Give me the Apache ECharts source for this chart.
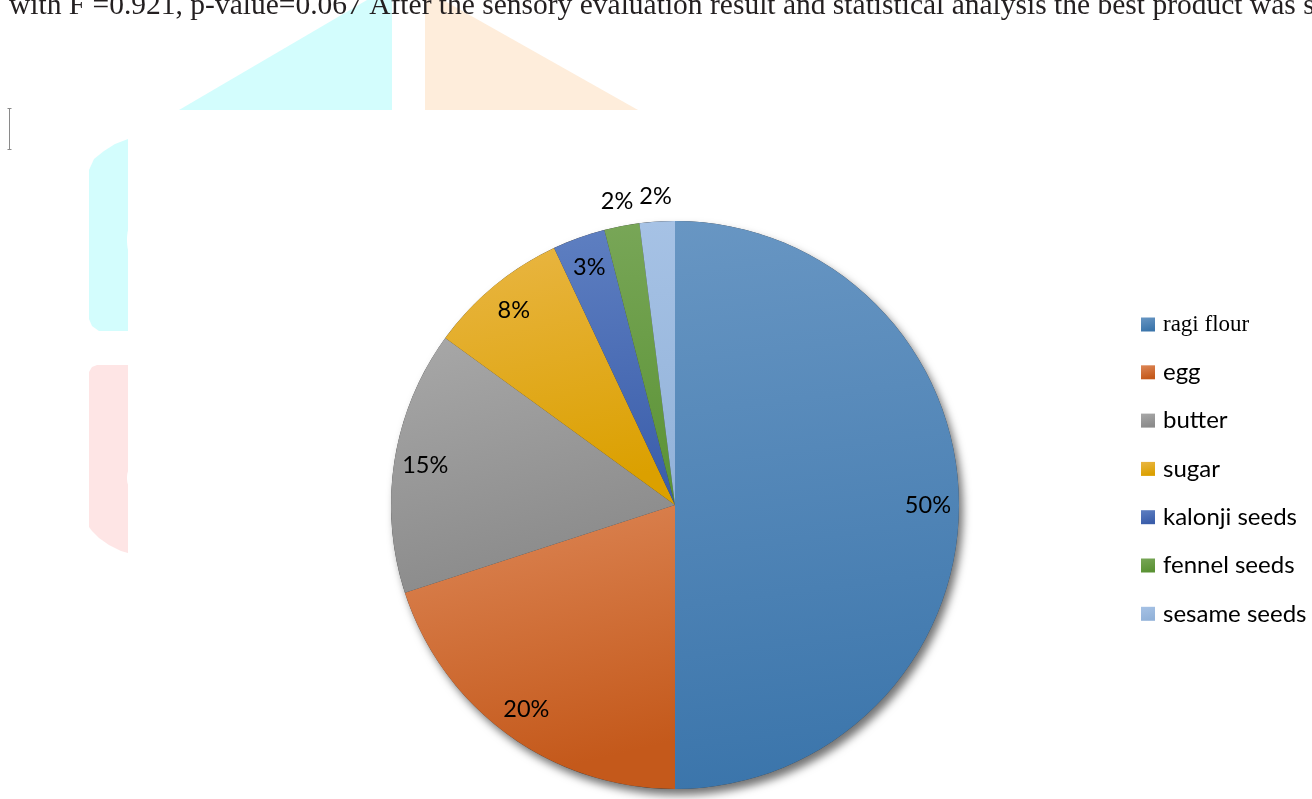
<!DOCTYPE html>
<html>
<head>
<meta charset="utf-8">
<script src="https://cdn.jsdelivr.net/npm/echarts@6/dist/echarts.min.js"></script>
<style>
  html, body { margin: 0; padding: 0; background: #ffffff; }
  #chart { width: 1312px; height: 799px; }
</style>
</head>
<body>
<div id="chart"></div>
<script>
// ---- data ----
const categories = ['ragi flour', 'egg', 'butter', 'sugar', 'kalonji seeds', 'fennel seeds', 'sesame seeds'];
const values = [50, 20, 15, 8, 3, 2, 2];
const outsideLabelNames = ['fennel seeds', 'sesame seeds'];
const headerText = 'with F =0.921, p-value=0.067 After the sensory evaluation result and statistical analysis the best product was se';

// ---- styles ----
const topColors = ['#6896c3', '#dd8757', '#a8a8a8', '#e9b644', '#5e7fc1', '#78a657', '#a6c2e5'];
const bottomColors = ['#3b75ab', '#c4591b', '#8b8b8b', '#dba000', '#3a5daa', '#5a9234', '#92b2d9'];

const total = values.reduce((a, b) => a + b, 0);
const CENTER = [675, 505];
const R = 284;

function grad(i) {
  return new echarts.graphic.LinearGradient(0, 0, 0.25, 1, [
    { offset: 0, color: topColors[i] },
    { offset: 1, color: bottomColors[i] }
  ]);
}

const mainData = categories.map((n, i) => ({
  name: n, value: values[i],
  itemStyle: { color: grad(i) }
}));

const pctFmt = p => Math.round(p.percent) + '%';
const labelFont = { fontFamily: 'Lato', fontSize: 23.5, color: '#000' };

const innerLabelData = categories.map((n, i) => ({
  name: n, value: values[i],
  label: { show: outsideLabelNames.indexOf(n) < 0 }
}));
const outerLabelData = categories.map((n, i) => ({
  name: n, value: values[i],
  label: { show: outsideLabelNames.indexOf(n) >= 0 }
}));

const chart = echarts.init(document.getElementById('chart'), null, { renderer: 'canvas' });

const overlayBase = {
  type: 'pie',
  center: CENTER,
  startAngle: 90,
  clockwise: true,
  silent: true,
  legendHoverLink: false,
  avoidLabelOverlap: false,
  itemStyle: { color: 'rgba(0,0,0,0)', borderWidth: 0 },
  labelLine: { show: false },
  emphasis: { disabled: true },
  animation: false,
  z: 5
};

chart.setOption({
  animation: false,
  backgroundColor: '#ffffff',
  graphic: [
    // faint watermark shapes behind the chart
    { type: 'polygon', z: 0, silent: true, shape: { points: [[179,110],[367,0],[392,0],[392,110]] }, style: { fill: '#d3fdfd' } },
    { type: 'polygon', z: 0, silent: true, shape: { points: [[425,0],[443,0],[638,110],[425,110]] }, style: { fill: '#feeddb' } },
    { type: 'polygon', z: 0, silent: true, shape: { points: [[89,170],[94,159],[104,151],[115,144],[128,139],[128,331],[99,331],[92,326],[89,319]] }, style: { fill: '#d3fdfd' } },
    { type: 'polygon', z: 0, silent: true, shape: { points: [[89,372],[92,367],[97,365],[128,365],[128,553],[121,551],[109,545],[99,538],[92,531],[89,527]] }, style: { fill: '#fee5e5' } },
    { type: 'ellipse', z: 0, silent: true, shape: { cx: 130, cy: 240, rx: 3, ry: 13 }, style: { fill: '#ffffff' } },
    { type: 'ellipse', z: 0, silent: true, shape: { cx: 130, cy: 478, rx: 3, ry: 9 }, style: { fill: '#ffffff' } },
    // header text line (cut at top)
    { type: 'text', z: 10, silent: true, style: { text: headerText, x: 9, y: 6, verticalAlign: 'middle', font: '29.5px "Liberation Serif"', fill: '#231f20' } },
    // text cursor mark
    { type: 'polyline', z: 10, silent: true, shape: { points: [[9.5,108],[9.5,150]] }, style: { stroke: '#8a8a8a', lineWidth: 1 } },
    { type: 'polyline', z: 10, silent: true, shape: { points: [[7.5,108.5],[11.5,108.5]] }, style: { stroke: '#8a8a8a', lineWidth: 1 } },
    { type: 'polyline', z: 10, silent: true, shape: { points: [[7.5,149.5],[11.5,149.5]] }, style: { stroke: '#8a8a8a', lineWidth: 1 } }
  ],
  legend: {
    orient: 'vertical',
    left: 1136,
    top: 308,
    itemWidth: 14,
    itemHeight: 14,
    itemGap: 24.3,
    icon: 'rect',
    data: categories,
    formatter: n => (n === categories[0] ? '{s|' + n + '}' : '{n|' + n + '}'),
    textStyle: {
      padding: [0, 0, 0, 3],
      rich: {
        s: { fontFamily: '"Liberation Serif"', fontSize: 23, color: '#000' },
        n: { fontFamily: 'Lato', fontSize: 24, color: '#000' }
      }
    }
  },
  series: [
    {
      // full-disc shadow underneath the slices
      type: 'pie',
      name: 'shadow',
      center: CENTER,
      radius: [0, R],
      silent: true,
      legendHoverLink: false,
      label: { show: false },
      labelLine: { show: false },
      emphasis: { disabled: true },
      data: [{ name: 'all ingredients', value: total }],
      itemStyle: {
        color: '#3a3a3a',
        shadowBlur: 8,
        shadowOffsetX: 4,
        shadowOffsetY: 6,
        shadowColor: 'rgba(0,0,0,0.55)'
      },
      z: 1
    },
    {
      type: 'pie',
      name: 'ingredients',
      center: CENTER,
      radius: [0, R],
      startAngle: 90,
      clockwise: true,
      avoidLabelOverlap: false,
      label: { show: false },
      labelLine: { show: false },
      itemStyle: { borderWidth: 0 },
      emphasis: { scale: false },
      data: mainData,
      z: 2
    },
    Object.assign({}, overlayBase, {
      name: 'inner labels',
      radius: [R * 0.76, R],
      label: Object.assign({ position: 'inside', formatter: pctFmt, rotate: 0 }, labelFont),
      data: innerLabelData
    }),
    Object.assign({}, overlayBase, {
      name: 'outer labels',
      radius: [R + 8, R + 36],
      label: Object.assign({ position: 'inside', formatter: pctFmt, rotate: 0 }, labelFont),
      data: outerLabelData
    })
  ]
});
</script>
</body>
</html>
